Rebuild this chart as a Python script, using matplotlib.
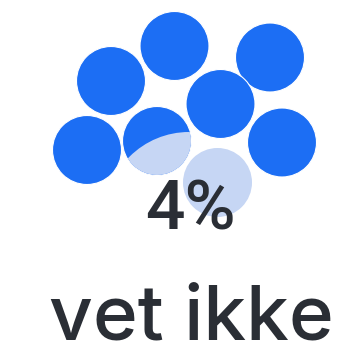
import matplotlib.pyplot as plt
from matplotlib.patches import Circle

# value shown and its label
share_pct = 4
label = "vet ikke"

# bubble cluster (pixel coords, y down)
bubble_x = [174.5, 270, 111, 220.5, 87, 282, 157]
bubble_y = [46, 57.5, 81, 104, 150, 142.5, 141]
bubble_r = 34.5

# the highlighted share: light disc + partly faded bubble
share_x, share_y = 217.5, 182.5
fade_x, fade_y, fade_r = 189, 216, 84

BLUE = "#1c6ef4"
LIGHT = "#c6d6f4"
TEXT = "#2a2e35"

fig = plt.figure(figsize=(3.39, 3.56), dpi=100)
ax = fig.add_axes([0, 0, 1, 1])
ax.set_xlim(0, 339)
ax.set_ylim(356, 0)
ax.set_aspect("equal")
ax.axis("off")

ax.add_patch(Circle((share_x, share_y), bubble_r, facecolor=LIGHT, edgecolor="none", zorder=1))

for x, y in zip(bubble_x, bubble_y):
    ax.add_patch(Circle((x, y), bubble_r, facecolor=BLUE, edgecolor="white", linewidth=0.8, zorder=2))

# fade the lower part of the last bubble
last = Circle((bubble_x[-1], bubble_y[-1]), bubble_r - 0.5, transform=ax.transData)
fade = Circle((fade_x, fade_y), fade_r, facecolor=LIGHT, edgecolor="none", zorder=3)
ax.add_patch(fade)
fade.set_clip_path(last)

ax.text(190, 230, f"{share_pct}%", fontsize=50, family="Roboto", weight="medium", color=TEXT,
        ha="center", va="baseline", zorder=5)
ax.text(191, 340, label, fontsize=55, family="Inter", weight="medium", color=TEXT,
        ha="center", va="baseline", zorder=5)

fig.savefig("out.png", dpi=100, facecolor="white")
